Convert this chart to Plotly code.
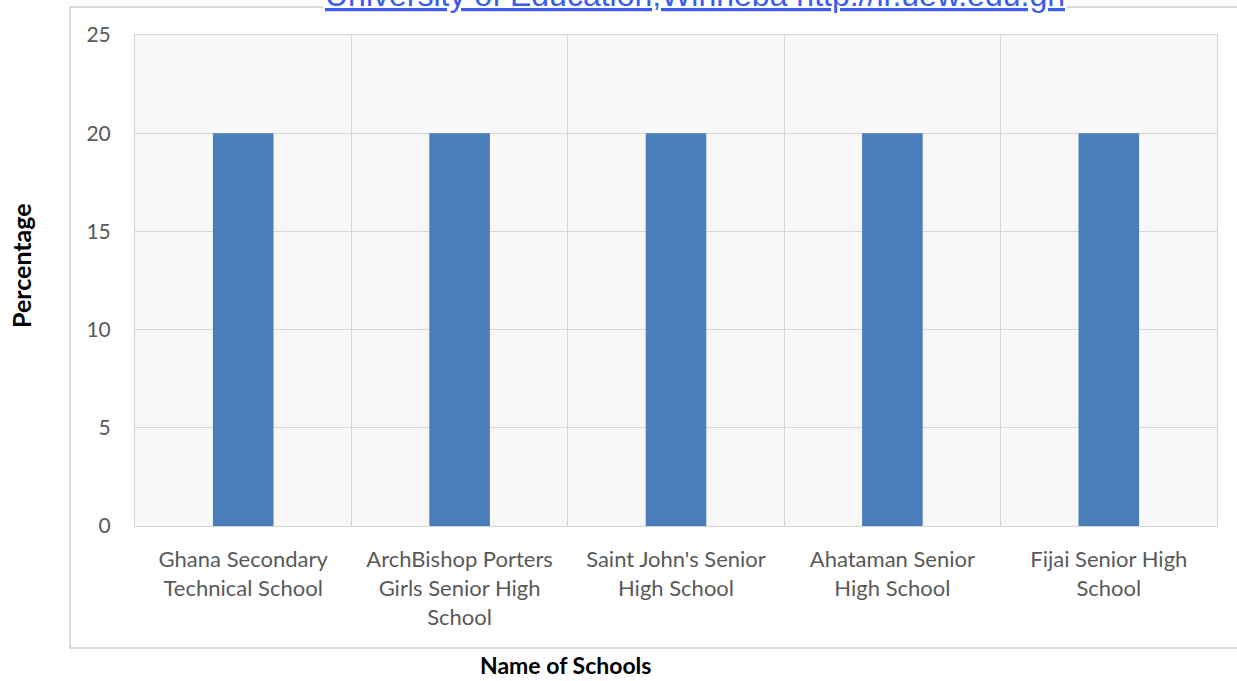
import plotly.graph_objects as go

schools = [
    "Ghana Secondary<br>Technical School",
    "ArchBishop Porters<br>Girls Senior High<br>School",
    "Saint John's Senior<br>High School",
    "Ahataman Senior<br>High School",
    "Fijai Senior High<br>School",
]
percentages = [20, 20, 20, 20, 20]
y_ticks = [0, 5, 10, 15, 20, 25]

W, H = 1237, 681
L, R, T, B = 135, 20, 35, 155
pw, ph = W - L - R, H - T - B

def px_x(px):
    return (px - L) / pw

def px_y(py):
    return (H - B - py) / ph

fig = go.Figure(go.Bar(
    x=schools, y=percentages,
    marker=dict(color="#4a7ebb", line=dict(width=0)),
    width=0.28,
))

font_fam = "Lato, Open Sans, sans-serif"

fig.update_layout(
    width=W, height=H,
    margin=dict(l=L, r=R, t=T, b=B),
    paper_bgcolor="white",
    plot_bgcolor="#f8f8f8",
    showlegend=False,
    font=dict(family=font_fam, color="#595959"),
    xaxis=dict(
        type="category",
        tickson="boundaries",
        showgrid=True, gridcolor="#d6d6d6", gridwidth=1,
        showline=True, linecolor="#d6d6d6", mirror=True,
        ticks="", tickfont=dict(size=22, color="#595959"),
        ticklabelstandoff=14,
        tickangle=0,
    ),
    yaxis=dict(
        range=[0, 25], tickvals=y_ticks,
        showgrid=True, gridcolor="#d6d6d6", gridwidth=1,
        showline=True, linecolor="#d6d6d6", mirror=True,
        zeroline=False,
        ticks="", tickfont=dict(size=21, color="#595959"),
        ticklabelstandoff=19,
    ),
    shapes=[
        dict(type="rect", xref="paper", yref="paper",
             x0=px_x(70), x1=px_x(1240), y0=px_y(648), y1=px_y(7),
             line=dict(color="#d0d0d0", width=1.5), fillcolor="rgba(0,0,0,0)",
             layer="below"),
    ],
    annotations=[
        dict(text="<b>Percentage</b>", xref="paper", yref="paper",
             x=px_x(21), y=px_y(266), textangle=-90, showarrow=False,
             font=dict(size=25, color="black", family=font_fam),
             xanchor="center", yanchor="middle"),
        dict(text="<b>Name of Schools</b>", xref="paper", yref="paper",
             x=px_x(565), y=px_y(665), showarrow=False,
             font=dict(size=23, color="black", family=font_fam),
             xanchor="center", yanchor="middle"),
        dict(text="University of Education,Winneba http://ir.uew.edu.gh",
             xref="paper", yref="paper",
             x=px_x(695), y=px_y(15), showarrow=False,
             font=dict(size=32, color="#3a5cf0", family="Liberation Sans, Arial, sans-serif",
                       lineposition="under"),
             bgcolor="white",
             xanchor="center", yanchor="bottom"),
    ],
)

fig.write_html("out.html")
